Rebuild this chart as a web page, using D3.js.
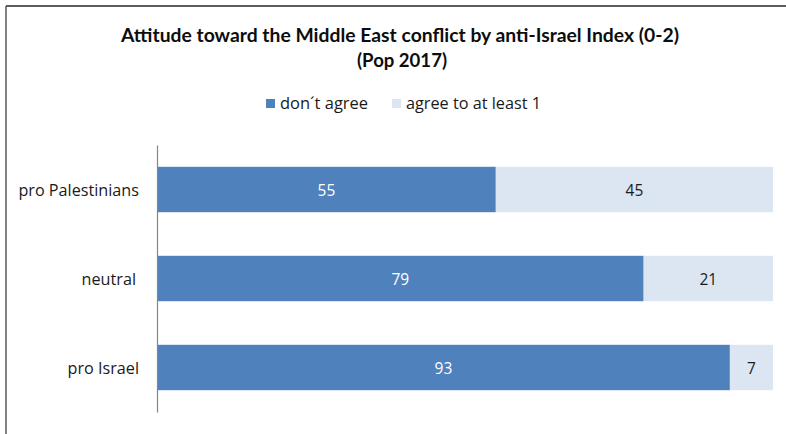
<!DOCTYPE html>
<html>
<head>
<meta charset="utf-8">
<script src="https://cdn.jsdelivr.net/npm/d3@7"></script>
<style>
  html, body { margin: 0; padding: 0; background: #fff; }
  svg { display: block; font-family: "Open Sans", Lato, sans-serif; }
</style>
</head>
<body>
<svg id="chart" width="786" height="434"></svg>
<script>
// Attitude categories (top to bottom) and the two stacked shares (%)
const categories = ["pro Palestinians", "neutral", "pro Israel"];
const dontAgree = [55, 79, 93];
const agreeAtLeastOne = [45, 21, 7];
const seriesNames = ["don´t agree", "agree to at least 1"];
const seriesColors = ["#4F81BD", "#DCE6F2"];
const labelColors = ["#ffffff", "#1a1a1a"];

const svg = d3.select("#chart");

// Chart frame (top and left edges)
svg.append("line").attr("x1", 6).attr("x2", 786).attr("y1", 6).attr("y2", 6)
  .attr("stroke", "#262626").attr("stroke-width", 1.5);
svg.append("line").attr("x1", 6).attr("x2", 6).attr("y1", 6).attr("y2", 434)
  .attr("stroke", "#595959").attr("stroke-width", 1.5);

// Title
const title = svg.append("text").attr("text-anchor", "middle")
  .attr("font-family", "Lato, 'Open Sans', sans-serif")
  .attr("font-weight", "bold").attr("font-size", 18).attr("fill", "#0d0d0d");
title.append("tspan").attr("x", 400).attr("y", 42)
  .attr("textLength", 558).attr("lengthAdjust", "spacingAndGlyphs")
  .text("Attitude toward the Middle East conflict by anti-Israel Index (0-2)");
title.append("tspan").attr("x", 402).attr("y", 67)
  .attr("textLength", 90).attr("lengthAdjust", "spacingAndGlyphs")
  .text("(Pop 2017)");

// Legend
const legendItems = [
  { x: 266, tx: 280, w: 88 },
  { x: 392, tx: 406, w: 135 }
];
legendItems.forEach((d, i) => {
  svg.append("rect").attr("x", d.x).attr("y", 99).attr("width", 9).attr("height", 9)
    .attr("fill", seriesColors[i]);
  svg.append("text").attr("x", d.tx).attr("y", 109)
    .attr("font-size", 15.5).attr("fill", "#1a1a1a")
    .attr("textLength", d.w).attr("lengthAdjust", "spacingAndGlyphs")
    .text(seriesNames[i]);
});

// Scales
const x = d3.scaleLinear().domain([0, 100]).range([157, 773]);
const y = d3.scaleBand().domain(categories).range([145, 412]).paddingInner(0.49).paddingOuter(0.245);

const rows = categories.map((c, i) => ({ cat: c, vals: [dontAgree[i], agreeAtLeastOne[i]] }));
const stack = d3.stack().keys([0, 1]).value((d, k) => d.vals[k]);
const layers = stack(rows);

const g = svg.append("g");
layers.forEach((layer, k) => {
  g.selectAll(null).data(layer).enter().append("rect")
    .attr("x", d => x(d[0]))
    .attr("y", d => y(d.data.cat))
    .attr("width", d => x(d[1]) - x(d[0]))
    .attr("height", y.bandwidth())
    .attr("fill", seriesColors[k]);
  g.selectAll(null).data(layer).enter().append("text")
    .attr("x", d => (x(d[0]) + x(d[1])) / 2)
    .attr("y", d => y(d.data.cat) + y.bandwidth() / 2 + 6)
    .attr("text-anchor", "middle")
    .attr("font-size", 15.5)
    .attr("fill", labelColors[k])
    .text(d => d.data.vals[k]);
});

// Category axis
const axis = svg.append("g").attr("transform", `translate(${x(0)},0)`)
  .call(d3.axisLeft(y).tickSize(0).tickPadding(18));
axis.select(".domain").attr("stroke", "#868686").attr("stroke-width", 1.2);
axis.selectAll("text").attr("font-size", 16.2).attr("fill", "#1a1a1a")
  .attr("font-family", "'Open Sans', Lato, sans-serif").attr("dy", "0.38em")
  .attr("dx", d => d === "neutral" ? -3 : 0);
</script>
</body>
</html>
